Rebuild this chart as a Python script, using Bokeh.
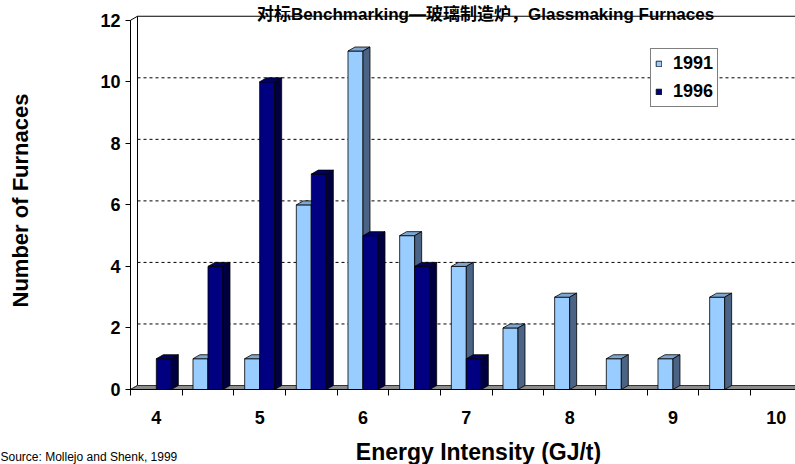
from bokeh.plotting import figure
from bokeh.models import FixedTicker, Label, Legend, LegendItem, ColumnDataSource, Range1d
from bokeh.embed import file_html
from bokeh.resources import INLINE

# ---------------- data ----------------
categories = [4.0, 4.5, 5.0, 5.5, 6.0, 6.5, 7.0, 7.5, 8.0, 8.5, 9.0, 9.5, 10.0]
furnaces_1991 = [0, 1, 1, 6, 11, 5, 4, 2, 3, 1, 1, 3, 0]
furnaces_1996 = [1, 4, 10, 7, 5, 4, 1, 0, 0, 0, 0, 0, 0]
series_names = ["1991", "1996"]
x_tick_values = [4, 5, 6, 7, 8, 9, 10]
x_tick_labels = ["4", "5", "6", "7", "8", "9", "10"]
y_tick_values = [0, 2, 4, 6, 8, 10, 12]
title_text = "对标Benchmarking—玻璃制造炉，Glassmaking Furnaces"
x_title = "Energy Intensity (GJ/t)"
y_title = "Number of Furnaces"
source_text = "Source: Mollejo and Shenk, 1999"

# ---------------- layout (pixels) ----------------
W, H = 795, 464
AX_LEFT, AX_BOTTOM = 130, 389      # pixel position of front y-axis / front floor edge
PX_X = 103.33                       # px per GJ/t
PX_Y = 30.77                        # px per furnace
step = categories[1] - categories[0]
x0 = categories[0] - step / 2       # first category boundary (at the y-axis)
xs_lo = x0 - AX_LEFT / PX_X
xs_hi = x0 + (W - AX_LEFT) / PX_X
ys_lo = -(H - AX_BOTTOM) / PX_Y
ys_hi = AX_BOTTOM / PX_Y
DX, DY = 7 / PX_X, 4 / PX_Y         # 3-D depth offset
BW = 15 / PX_X                      # bar width
ymax = y_tick_values[-1]

FONT = "Liberation Sans, Arial, Noto Sans CJK SC"

def X(px):
    return xs_lo + px / PX_X

def Y(py):
    return ys_hi - py / PX_Y

p = figure(width=W, height=H, output_backend="svg", toolbar_location=None,
           x_range=Range1d(xs_lo, xs_hi), y_range=Range1d(ys_lo, ys_hi),
           min_border_left=0, min_border_right=0, min_border_top=0, min_border_bottom=0)
p.outline_line_color = None
p.xgrid.visible = False
p.ygrid.visible = False
p.background_fill_color = "white"
p.border_fill_color = "white"

# left wall
p.patch([x0, x0, x0 + DX, x0 + DX], [0, ymax, ymax + DY, DY],
        fill_color="white", line_color="black", line_width=1)
# back wall top edge
p.line([x0 + DX, xs_hi + 1], [ymax + DY, ymax + DY], line_color="black", line_width=1)
# gridlines on back wall
grid_vals = [v for v in y_tick_values if 0 < v < ymax]
p.multi_line([[x0 + DX, xs_hi + 1] for v in grid_vals], [[v + DY, v + DY] for v in grid_vals],
             line_color="black", line_width=1, line_dash="3 3")
# floor
p.patch([x0, xs_hi + 1, xs_hi + 1 + DX, x0 + DX], [0, 0, DY, DY],
        fill_color="#8c8c8c", line_color="#333333", line_width=1)

styles = [
    dict(front="#99CCFF", top="#7DA6D0", side="#4B6385"),
    dict(front="#000080", top="#000066", side="#000040"),
]
front_renderers = []
for si, vals in enumerate([furnaces_1991, furnaces_1996]):
    st = styles[si]
    xs = [c for c, v in zip(categories, vals) if v > 0]
    vs = [v for v in vals if v > 0]
    lefts = [c - BW for c in xs] if si == 0 else [c for c in xs]
    rights = [l + BW for l in lefts]
    src = ColumnDataSource(dict(left=lefts, right=rights, top=vs, bottom=[0] * len(vs)))
    r = p.quad(left="left", right="right", top="top", bottom="bottom", source=src,
               fill_color=st["front"], line_color="black", line_width=0.8)
    front_renderers.append(r)
    p.patches([[l, rr, rr + DX, l + DX] for l, rr in zip(lefts, rights)],
              [[v, v, v + DY, v + DY] for v in vs],
              fill_color=st["top"], line_color="black", line_width=0.8)
    p.patches([[rr, rr, rr + DX, rr + DX] for rr in rights],
              [[0, v, v + DY, DY] for v in vs],
              fill_color=st["side"], line_color="black", line_width=0.8)

# axes (fixed inside the plot region)
boundaries = [c - step / 2 for c in categories] + [categories[-1] + step / 2]
xa = p.xaxis[0]
xa.fixed_location = 0
xa.bounds = (x0, xs_hi + 1)
xa.ticker = FixedTicker(ticks=x_tick_values, minor_ticks=boundaries)
xa.major_label_overrides = {t: l for t, l in zip(x_tick_values, x_tick_labels)}
xa.major_tick_out = 0
xa.major_tick_in = 0
xa.minor_tick_out = 6
xa.minor_tick_in = 0
xa.minor_tick_line_color = "black"
xa.axis_line_color = "black"
xa.major_label_text_font = FONT
xa.major_label_text_font_size = "18px"
xa.major_label_text_font_style = "bold"
xa.major_label_text_color = "black"
xa.major_label_standoff = 15

ya = p.yaxis[0]
ya.fixed_location = x0
ya.ticker = FixedTicker(ticks=y_tick_values, minor_ticks=[])
ya.bounds = (0, ymax)
ya.major_tick_out = 5
ya.major_tick_in = 0
ya.minor_tick_out = 0
ya.minor_tick_in = 0
ya.axis_line_color = "black"
ya.major_tick_line_color = "black"
ya.major_label_text_font = FONT
ya.major_label_text_font_size = "18px"
ya.major_label_text_font_style = "bold"
ya.major_label_text_color = "black"
ya.major_label_standoff = 5

# legend
legend = Legend(items=[LegendItem(label=n, renderers=[r]) for n, r in zip(series_names, front_renderers)],
                location=(650, 464 - 52 - 55), orientation="vertical",
                label_text_font=FONT, label_text_font_size="18px", label_text_font_style="bold",
                label_text_color="black",
                glyph_width=7, glyph_height=7, label_standoff=11, label_height=20,
                padding=4, spacing=7, margin=0,
                border_line_color="black", border_line_width=1,
                background_fill_color="white", background_fill_alpha=1)
p.add_layout(legend)

# texts
p.add_layout(Label(x=X(485), y=Y(14), text=title_text, text_align="center",
                   text_baseline="alphabetic", text_font=FONT, text_font_size="17px",
                   text_font_style="bold", text_color="black"))
p.add_layout(Label(x=X(478), y=Y(451), text=x_title, text_align="center",
                   text_baseline="middle", text_font=FONT, text_font_size="23px",
                   text_font_style="bold", text_color="black"))
p.add_layout(Label(x=X(20), y=Y(200), text=y_title, text_align="center",
                   text_baseline="middle", angle=1.5707963, text_font=FONT,
                   text_font_size="22px", text_font_style="bold", text_color="black"))
p.add_layout(Label(x=X(0), y=Y(456), text=source_text, text_align="left",
                   text_baseline="alphabetic", text_font=FONT, text_font_size="12px",
                   text_color="black"))

open("out.html", "w").write(file_html(p, INLINE))
